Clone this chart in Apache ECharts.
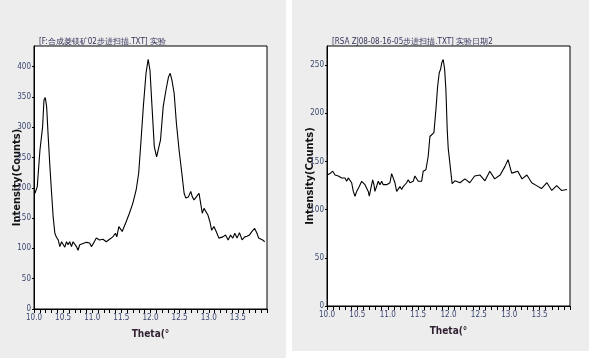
<!DOCTYPE html>
<html>
<head>
<meta charset="utf-8">
<script src="https://cdn.jsdelivr.net/npm/echarts@6/dist/echarts.min.js"></script>
<style>
html,body{margin:0;padding:0;background:#fff;}
#chart{width:589px;height:358px;}
</style>
</head>
<body>
<div id="chart"></div>
<script>
// left pattern: 2theta / counts
var leftTheta = [10.017,10.056,10.073,10.102,10.148,10.171,10.193,10.217,10.244,10.273,10.302,10.329,10.358,10.387,10.415,10.444,10.473,10.5,10.529,10.558,10.585,10.614,10.643,10.671,10.7,10.729,10.756,10.785,10.814,10.899,10.956,10.985,11.012,11.07,11.126,11.183,11.241,11.297,11.353,11.399,11.422,11.456,11.48,11.514,11.536,11.582,11.638,11.695,11.753,11.797,11.838,11.877,11.923,11.96,11.991,12.026,12.065,12.105,12.139,12.172,12.218,12.265,12.309,12.338,12.367,12.406,12.445,12.491,12.538,12.577,12.606,12.65,12.691,12.718,12.747,12.787,12.833,12.862,12.889,12.918,12.947,12.986,13.02,13.049,13.089,13.128,13.174,13.203,13.242,13.288,13.333,13.374,13.413,13.447,13.486,13.527,13.572,13.618,13.657,13.698,13.742,13.788,13.828,13.857,13.886,13.925,13.96];
var leftCounts = [191,202,224,262,301,345,349,334,284,235,191,152,125,118,114,103,111,114,102,111,106,111,103,111,114,103,97,106,109,110,109,103,107,117,114,115,111,115,119,125,119,136,139,128,130,144,158,174,196,224,279,334,389,412,394,334,268,251,251,279,334,361,383,389,378,356,306,262,224,191,183,185,194,185,180,185,191,174,158,166,169,155,144,130,136,128,117,114,119,122,114,122,117,125,117,126,114,119,120,122,128,133,125,117,119,114,111];

// right pattern
var rightTheta = [10.005,10.049,10.094,10.132,10.186,10.242,10.268,10.296,10.324,10.35,10.378,10.406,10.433,10.461,10.488,10.531,10.571,10.597,10.625,10.653,10.679,10.696,10.719,10.752,10.773,10.789,10.817,10.844,10.872,10.9,10.926,10.954,10.982,11.008,11.036,11.064,11.09,11.118,11.146,11.173,11.201,11.229,11.255,11.283,11.311,11.337,11.365,11.393,11.419,11.447,11.475,11.502,11.53,11.558,11.584,11.628,11.666,11.694,11.722,11.76,11.793,11.821,11.847,11.87,11.891,11.913,11.936,11.957,11.979,11.995,12.023,12.06,12.105,12.19,12.27,12.35,12.43,12.52,12.6,12.68,12.76,12.85,12.93,12.98,13.04,13.14,13.21,13.29,13.37,13.45,13.53,13.62,13.7,13.78,13.86,13.95];
var rightCounts = [136,137.5,140,136,135,133,135,133,129.5,133,132,128,119,114,119,124,129.5,131,126,124,119,114,121,131,126,119,121,129.5,126,129.5,126,128,126,124,128,137.5,136,128,119,121,124,121,124,123,128,131,128,126,129.5,135,133,129.5,128,129.5,140,141.5,155.5,176,178,180,204,228,242,246,253,256,246,225,183,164,162.5,127,130,128,132,128,135,136,130,140,132,136,145,152,138,140,132,136,128,125,122,128,120,125,120,121];

var leftTitle = '[F:合成菱镁矿02步进扫描.TXT] 实验';
var rightTitle = '[RSA ZJ08-08-16-05步进扫描.TXT] 实验日期2';

function pairs(xs, ys) {
    var out = [];
    for (var i = 0; i < xs.length; i++) {
        out.push([xs[i], ys[i]]);
    }
    return out;
}

var narrow = '"Liberation Sans Narrow","DejaVu Sans Condensed",sans-serif';
var labelColor = '#3a4670';

function xAxisOf(gridIndex) {
    return {
        type: 'value',
        gridIndex: gridIndex,
        min: 10,
        max: 14,
        interval: 0.5,
        name: 'Theta(°',
        nameLocation: 'middle',
        nameGap: 20,
        nameMoveOverlap: false,
        nameTextStyle: {color: '#332233', fontSize: 10, fontFamily: narrow, fontWeight: 'bold'},
        axisLine: {lineStyle: {color: '#000', width: 1}},
        axisTick: {length: 4, lineStyle: {color: '#000'}},
        minorTick: {show: true, splitNumber: 5, length: 4, lineStyle: {color: '#000'}},
        splitLine: {show: false},
        axisLabel: {
            color: labelColor, fontSize: 8, fontFamily: narrow, margin: 5,
            showMaxLabel: false,
            formatter: function (v) { return v.toFixed(1); }
        }
    };
}

function yAxisOf(gridIndex, max, gap) {
    return {
        type: 'value',
        gridIndex: gridIndex,
        min: 0,
        max: max,
        interval: 50,
        name: 'Intensity(Counts)',
        nameLocation: 'middle',
        nameRotate: 90,
        nameGap: gap,
        nameMoveOverlap: false,
        nameTextStyle: {color: '#111', fontSize: 11, fontFamily: narrow, fontWeight: 'bold'},
        axisLine: {show: true, lineStyle: {color: '#000', width: 1}},
        axisTick: {show: true, length: 2, lineStyle: {color: '#000'}},
        splitLine: {show: false},
        axisLabel: {
            color: labelColor, fontSize: 8, fontFamily: narrow, margin: 3,
            showMaxLabel: false
        }
    };
}

var chart = echarts.init(document.getElementById('chart'));
chart.setOption({
    animation: false,
    backgroundColor: '#fff',
    graphic: [
        {type: 'rect', z: -10, shape: {x: 0, y: 0, width: 286, height: 358}, style: {fill: '#ededed'}},
        {type: 'rect', z: -10, shape: {x: 292, y: 0, width: 297, height: 351}, style: {fill: '#ededed'}}
    ],
    title: [
        {text: leftTitle, left: 34, top: 33, textStyle: {fontSize: 8, fontWeight: 'normal', color: '#33335a', fontFamily: narrow}},
        {text: rightTitle, left: 327, top: 33, textStyle: {fontSize: 8, fontWeight: 'normal', color: '#33335a', fontFamily: narrow}}
    ],
    grid: [
        {left: 34, top: 46, width: 233, height: 263, show: true, backgroundColor: '#fff', borderColor: '#000', borderWidth: 1},
        {left: 327, top: 46, width: 243, height: 260, show: true, backgroundColor: '#fff', borderColor: '#000', borderWidth: 1}
    ],
    xAxis: [xAxisOf(0), xAxisOf(1)],
    yAxis: [yAxisOf(0, 434, 11), yAxisOf(1, 270, 11)],
    series: [
        {
            type: 'line', xAxisIndex: 0, yAxisIndex: 0,
            data: pairs(leftTheta, leftCounts),
            showSymbol: false,
            lineStyle: {color: '#000', width: 1.1}
        },
        {
            type: 'line', xAxisIndex: 1, yAxisIndex: 1,
            data: pairs(rightTheta, rightCounts),
            showSymbol: false,
            lineStyle: {color: '#000', width: 1.1}
        }
    ]
});
</script>
</body>
</html>
